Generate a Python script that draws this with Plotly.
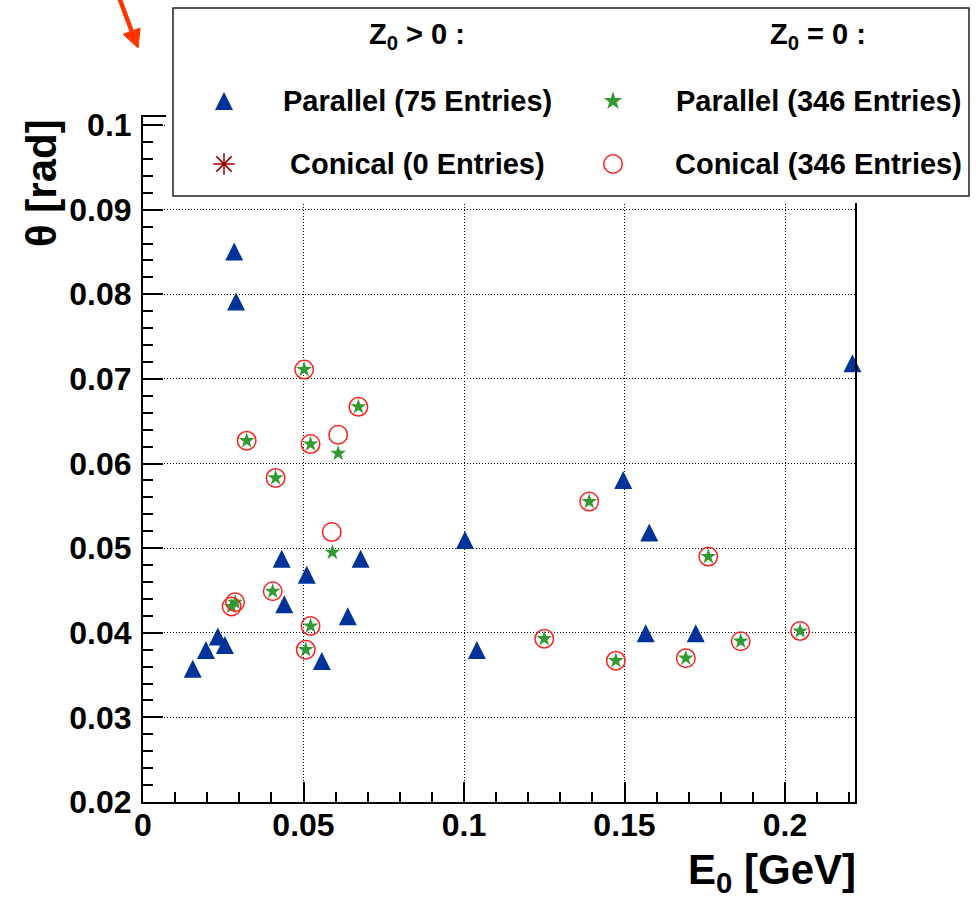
import plotly.graph_objects as go

W, H = 976, 898

# ---------------- data ----------------
# Z0 > 0 : Parallel (blue triangles)
par_zpos_E = [0.0284, 0.0290, 0.0432, 0.0678, 0.0510, 0.0440, 0.0638, 0.0233, 0.0255, 0.0196,
              0.0557, 0.0155, 0.1003, 0.1040, 0.1496, 0.1577, 0.1566, 0.1722, 0.2210]
par_zpos_theta = [0.0847, 0.0788, 0.0484, 0.0484, 0.0465, 0.0430, 0.0416, 0.0392, 0.0382, 0.0376,
                  0.0363, 0.0354, 0.0506, 0.0376, 0.0577, 0.0515, 0.0396, 0.0396, 0.0715]
# Z0 > 0 : Conical (no entries)
con_zpos_E = []
con_zpos_theta = []
# Z0 = 0 : Parallel (green stars)
par_z0_E = [0.0502, 0.0671, 0.0323, 0.0522, 0.0608, 0.0413, 0.0590, 0.0404, 0.0287, 0.0276,
            0.0522, 0.0507, 0.1250, 0.1390, 0.1761, 0.2047, 0.1862, 0.1691, 0.1473]
par_z0_theta = [0.0711, 0.0667, 0.0627, 0.0623, 0.0612, 0.0583, 0.0495, 0.0449, 0.0436, 0.0431,
                0.0408, 0.0380, 0.0393, 0.0555, 0.0490, 0.0402, 0.0390, 0.0370, 0.0367]
# Z0 = 0 : Conical (red open circles)
con_z0_E = [0.0502, 0.0671, 0.0323, 0.0522, 0.0608, 0.0413, 0.0588, 0.0404, 0.0287, 0.0276,
            0.0522, 0.0507, 0.1250, 0.1390, 0.1761, 0.2047, 0.1862, 0.1691, 0.1473]
con_z0_theta = [0.0711, 0.0667, 0.0627, 0.0623, 0.0634, 0.0583, 0.0519, 0.0449, 0.0436, 0.0431,
                0.0408, 0.0380, 0.0393, 0.0555, 0.0490, 0.0402, 0.0390, 0.0370, 0.0367]

x_tickvals = [0, 0.05, 0.1, 0.15, 0.2]
x_ticktext = ["0", "0.05", "0.1", "0.15", "0.2"]
y_tickvals = [0.02, 0.03, 0.04, 0.05, 0.06, 0.07, 0.08, 0.09, 0.1]
y_ticktext = ["0.02", "0.03", "0.04", "0.05", "0.06", "0.07", "0.08", "0.09", "0.1"]

legend_titles = ["Z<sub>0</sub> &gt; 0 :", "Z<sub>0</sub> = 0 :"]
legend_labels = ["Parallel (75 Entries)", "Conical (0 Entries)",
                 "Parallel (346 Entries)", "Conical (346 Entries)"]

# ---------------- styles ----------------
BLUE = "#003399"
GREEN = "#339933"
RED = "#ff2020"
DARKRED = "#990000"
FONT = "Liberation Sans, Arial, sans-serif"
TRI_SIZE = 18


def px(xp):
    return xp / W


def py(yp):
    return 1 - yp / H


# plot frame in pixels
L, R, T, B = 143, 855, 117, 802

tri_marker = dict(symbol="arrow-down", angle=180, standoff=TRI_SIZE * 2 / 3,
                  size=TRI_SIZE, color=BLUE, line=dict(width=0))
star_marker = dict(symbol="star", size=12, color=GREEN, line=dict(width=0))
circ_marker = dict(symbol="circle-open", size=18.5, color=RED, line=dict(width=1.5, color=RED))
ast_marker = dict(symbol="asterisk-open", size=18, color=DARKRED, line=dict(width=1.5, color=DARKRED))

fig = go.Figure()
fig.add_trace(go.Scatter(x=par_zpos_E, y=par_zpos_theta, mode="markers", marker=tri_marker,
                         cliponaxis=False, showlegend=False, name=legend_labels[0]))
fig.add_trace(go.Scatter(x=con_zpos_E, y=con_zpos_theta, mode="markers", marker=ast_marker,
                         cliponaxis=False, showlegend=False, name=legend_labels[1]))
fig.add_trace(go.Scatter(x=par_z0_E, y=par_z0_theta, mode="markers", marker=star_marker,
                         cliponaxis=False, showlegend=False, name=legend_labels[2]))
fig.add_trace(go.Scatter(x=con_z0_E, y=con_z0_theta, mode="markers", marker=circ_marker,
                         cliponaxis=False, showlegend=False, name=legend_labels[3]))

# ---------------- legend (drawn in a pixel-space overlay subplot) ----------------
LB = dict(x0=173, x1=969, y0=8, y1=196)
col_sym = [224, 613]
col_txt = [417, 818]
row_y = [35, 101, 164]

leg_markers = [tri_marker, ast_marker, dict(star_marker, size=14), circ_marker]
for i, mk in enumerate(leg_markers):
    c, r = divmod(i, 2)
    fig.add_trace(go.Scatter(x=[col_sym[c]], y=[row_y[r + 1] + (3 if i == 0 else 0)],
                             mode="markers", marker=mk, xaxis="x2", yaxis="y2",
                             cliponaxis=False, showlegend=False, hoverinfo="skip"))

fig.add_shape(type="rect", xref="x2", yref="y2", layer="below",
              x0=LB["x0"], x1=LB["x1"], y0=LB["y0"], y1=LB["y1"],
              fillcolor="white", line=dict(color="#222222", width=1.5))

annos = []
for c in range(2):
    annos.append(dict(text=legend_titles[c], x=px(col_txt[c]), y=py(row_y[0] + 1),
                      xref="paper", yref="paper", xanchor="center", yanchor="middle",
                      showarrow=False, font=dict(family=FONT, size=29, weight="bold", color="black")))
    for r in range(2):
        annos.append(dict(text=legend_labels[2 * c + r], x=px(col_txt[c]), y=py(row_y[r + 1]),
                          xref="paper", yref="paper", xanchor="center", yanchor="middle",
                          showarrow=False, font=dict(family=FONT, size=29, weight="bold", color="black")))

# axis titles
annos.append(dict(text="θ [rad]", textangle=-90, x=px(41), y=py(T), xref="paper", yref="paper",
                  xanchor="center", yanchor="top", showarrow=False,
                  font=dict(family=FONT, size=42, weight="bold", color="black")))
annos.append(dict(text="E<sub>0</sub> [GeV]", x=px(858), y=py(872), xref="paper", yref="paper",
                  xanchor="right", yanchor="middle", showarrow=False,
                  font=dict(family=FONT, size=42, weight="bold", color="black")))

# red arrow (decoration at top-left)
tail = (117, -8)
tip = (138, 48)
dx, dy = tip[0] - tail[0], tip[1] - tail[1]
ln = (dx * dx + dy * dy) ** 0.5
ux, uy = dx / ln, dy / ln
hl, hw = 18, 9
bx, by = tip[0] - hl * ux, tip[1] - hl * uy
c1 = (bx + hw * uy, by - hw * ux)
c2 = (bx - hw * uy, by + hw * ux)
fig.add_shape(type="line", xref="paper", yref="paper", layer="above",
              x0=px(tail[0]), y0=py(tail[1]), x1=px(bx + 2 * ux), y1=py(by + 2 * uy),
              line=dict(color="#ff3300", width=4.5))
fig.add_shape(type="path", xref="paper", yref="paper", layer="above",
              path="M {:.5f},{:.5f} L {:.5f},{:.5f} L {:.5f},{:.5f} Z".format(
                  px(tip[0]), py(tip[1]), px(c1[0]), py(c1[1]), px(c2[0]), py(c2[1])),
              fillcolor="#ff3300", line=dict(color="#ff3300", width=1))

tickfont = dict(family=FONT, size=32, weight="bold", color="black")
axis_common = dict(showline=True, linecolor="black", linewidth=2, mirror=True,
                   ticks="inside", ticklen=20, tickwidth=1.5, tickcolor="black",
                   showgrid=True, gridcolor="black", gridwidth=1.2, griddash="1px,2px",
                   zeroline=False, tickfont=tickfont)

fig.update_layout(
    width=W, height=H, template="none",
    margin=dict(l=0, r=0, t=0, b=0),
    paper_bgcolor="white", plot_bgcolor="white",
    showlegend=False,
    xaxis=dict(domain=[px(L), px(R)], range=[0, 0.2218], tickvals=x_tickvals, ticktext=x_ticktext,
               minor=dict(dtick=0.01, tick0=0, ticks="inside", ticklen=10, tickwidth=1.5,
                          tickcolor="black", showgrid=False),
               ticklabelstandoff=-6, **axis_common),
    yaxis=dict(domain=[py(B), py(T)], range=[0.02, 0.10095], tickvals=y_tickvals, ticktext=y_ticktext,
               minor=dict(dtick=0.002, tick0=0.02, ticks="inside", ticklen=10, tickwidth=1.5,
                          tickcolor="black", showgrid=False),
               ticklabelstandoff=3, **axis_common),
    xaxis2=dict(domain=[px(166), px(976)], range=[166, 976], visible=False, fixedrange=True),
    yaxis2=dict(domain=[py(203), py(1)], range=[203, 1], visible=False, fixedrange=True),
    annotations=annos,
)

fig.write_html("out.html")
